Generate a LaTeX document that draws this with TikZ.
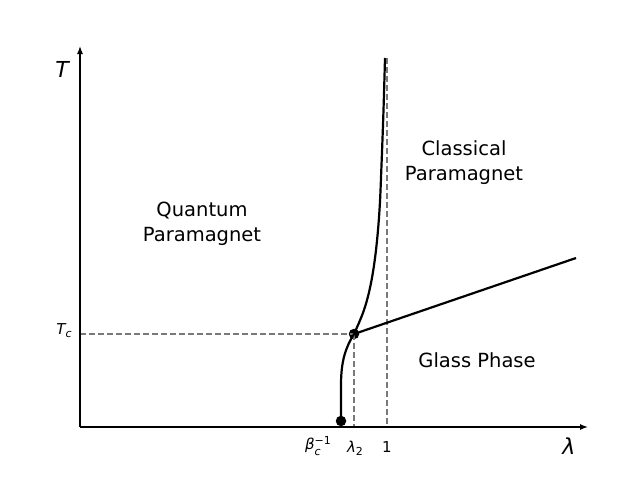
\documentclass[tikz,border=0pt]{standalone}
\usepackage{fontspec}
\setmainfont{DejaVu Sans}
\usetikzlibrary{arrows.meta}
\tikzset{
  axisline/.style={line width=1.3pt, -{Latex[length=8pt,width=6pt]}},
  curveline/.style={line width=2.2pt, black},
  guide/.style={line width=2pt, gray!95!black, dash pattern=on 6pt off 3pt},
  dotpt/.style={circle, fill=black, inner sep=0pt, minimum size=10.5pt},
  region/.style={font=\fontsize{19.5}{25}\selectfont, align=center, inner sep=0pt},
  ticklab/.style={font=\fontsize{15}{16}\selectfont, inner sep=0pt},
  axlab/.style={font=\fontsize{22}{24}\selectfont\itshape, inner sep=0pt}
}
\newcommand{\smallsc}{\fontsize{11}{11}\selectfont}
\begin{document}
\begin{tikzpicture}[x=1pt,y=-1pt]
\useasboundingbox (0,0) rectangle (640,480);
% key points
\coordinate (O) at (80,427);
\coordinate (ytop) at (80,46);
\coordinate (xend) at (588,427);
\node[dotpt] (beta) at (341,421) {};
\node[dotpt] (junc) at (354,334) {};
\coordinate (tcaxis) at (80,334);
\coordinate (l2axis) at (354,427);
\coordinate (onetop) at (387,58);
\coordinate (oneaxis) at (387,427);
\coordinate (glassend) at (576,258);
% dashed guides
\draw[guide] (tcaxis) -- (junc.center);
\draw[guide] (junc.center) -- (l2axis);
\draw[guide] (onetop) -- (oneaxis);
% axes
\draw[axisline] (O) -- (ytop);
\draw[axisline] (O) -- (xend);
% curves
\draw[curveline] (beta.center) -- (341,385) .. controls (341,360) and (346,347) .. (junc.center);
\draw[curveline] plot[smooth, tension=0.6] coordinates {(354,334) (364,310) (371,283) (376,250) (379.5,210) (381.5,165) (383.5,110) (385,58)};
\draw[curveline] (junc.center) -- (glassend);
% tick labels
\node[ticklab] (tc) at (64,331) {\itshape T\raisebox{-3pt}{\smallsc c}};
\node[ticklab] (betalab) at (318,446) {\itshape β\raisebox{-6pt}{\smallsc\shortstack[l]{\upshape −1\\[2pt]c}}};
\node[ticklab] (l2lab) at (355,448) {\itshape λ\raisebox{-3pt}{\smallsc\upshape 2}};
\node[ticklab] (onelab) at (387,447) {1};
% axis labels
\node[axlab] (Tlab) at (62,69) {T};
\node[axlab] (lamlab) at (569,446) {λ};
% region labels
\node[region] (qp) at (202,224) {Quantum\\Paramagnet};
\node[region] (cp) at (464,163) {Classical\\Paramagnet};
\node[region] (gp) at (477,360) {Glass Phase};
\end{tikzpicture}
\end{document}
